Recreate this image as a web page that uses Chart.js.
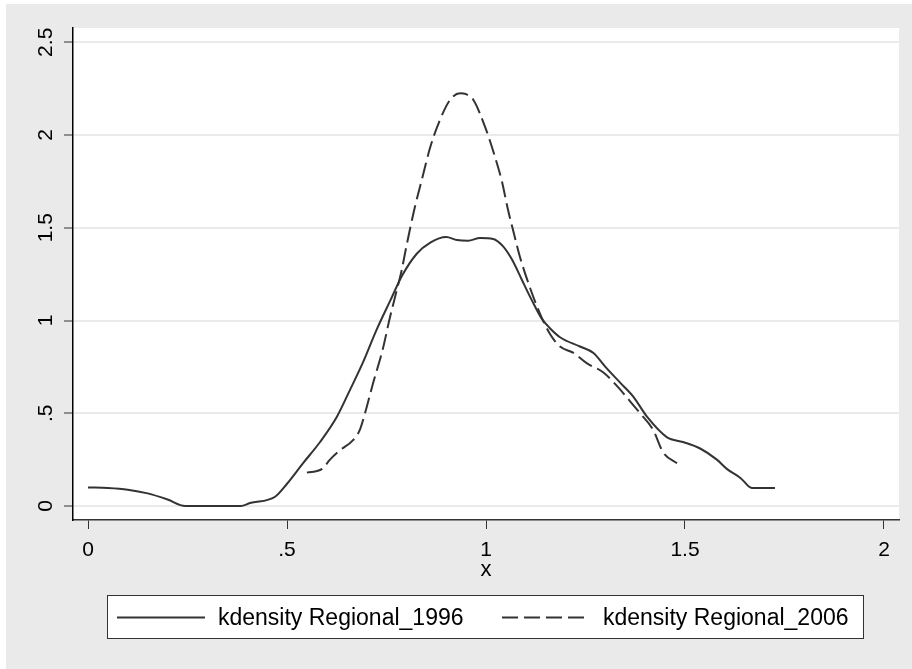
<!DOCTYPE html>
<html>
<head>
<meta charset="utf-8">
<script src="https://cdn.jsdelivr.net/npm/chart.js@4.4.0/dist/chart.umd.min.js"></script>
<style>
  html, body { margin: 0; padding: 0; background: #fff; }
  #wrap { width: 912px; height: 669px; }
</style>
</head>
<body>
<div id="wrap"><canvas id="kd" width="912" height="669"></canvas></div>
<script>
// kdensity Regional_1996
const x1996 = [0, 0.05, 0.1, 0.15, 0.2, 0.244, 0.384, 0.407, 0.47, 0.5, 0.54, 0.583, 0.625, 0.658, 0.69, 0.725, 0.76, 0.79, 0.826, 0.86, 0.9, 0.927, 0.955, 0.985, 1.018, 1.043, 1.065, 1.09, 1.115, 1.14, 1.16, 1.186, 1.236, 1.27, 1.3, 1.337, 1.37, 1.405, 1.455, 1.495, 1.538, 1.58, 1.605, 1.64, 1.668, 1.726];
const y1996 = [0.1, 0.097, 0.088, 0.068, 0.035, 0, 0, 0.016, 0.05, 0.12, 0.23, 0.345, 0.48, 0.625, 0.77, 0.95, 1.11, 1.245, 1.36, 1.42, 1.45, 1.434, 1.43, 1.445, 1.44, 1.4, 1.33, 1.22, 1.11, 1.01, 0.96, 0.91, 0.86, 0.825, 0.75, 0.665, 0.59, 0.48, 0.37, 0.345, 0.31, 0.25, 0.2, 0.15, 0.097, 0.097];

// kdensity Regional_2006
const x2006 = [0.55, 0.588, 0.608, 0.633, 0.666, 0.683, 0.696, 0.716, 0.74, 0.759, 0.776, 0.788, 0.8, 0.82, 0.84, 0.86, 0.884, 0.91, 0.935, 0.95, 0.968, 1.0, 1.02, 1.04, 1.055, 1.07, 1.085, 1.11, 1.135, 1.16, 1.186, 1.22, 1.253, 1.295, 1.33, 1.36, 1.387, 1.42, 1.445, 1.48];
const y2006 = [0.18, 0.2, 0.25, 0.3, 0.355, 0.41, 0.5, 0.66, 0.84, 1.02, 1.165, 1.27, 1.4, 1.6, 1.77, 1.935, 2.08, 2.19, 2.225, 2.22, 2.19, 2.03, 1.9, 1.75, 1.6, 1.47, 1.345, 1.18, 1.04, 0.93, 0.86, 0.825, 0.77, 0.72, 0.645, 0.57, 0.5, 0.41, 0.29, 0.23];

const seriesLabels = ["kdensity Regional_1996", "kdensity Regional_2006"];
const xTicks = [0, 0.5, 1, 1.5, 2];
const yTicks = [0, 0.5, 1, 1.5, 2, 2.5];

const FONT = "'Liberation Sans', Arial, sans-serif";
const LINE = "#333333";

const fmt = (v) => {
    if (v === 0) return "0";
    const s = String(v);
    return s.startsWith("0.") ? s.slice(1) : s;
};

const toPoints = (xs, ys) => xs.map((x, i) => ({ x: x, y: ys[i] }));

// grey frame + white plot region
const backdrop = {
    id: "backdrop",
    beforeDraw(chart) {
        const { ctx, chartArea: a } = chart;
        ctx.save();
        ctx.fillStyle = "#ffffff";
        ctx.fillRect(0, 0, chart.width, chart.height);
        ctx.fillStyle = "#eaeaea";
        ctx.fillRect(6, 4, chart.width - 6, chart.height - 4);
        ctx.fillStyle = "#ffffff";
        ctx.fillRect(a.left, a.top, a.right - a.left, a.bottom - a.top);
        ctx.restore();
    },
};

// y labels are vertical in the original
const yLabels = {
    id: "yLabels",
    afterDraw(chart) {
        const { ctx } = chart;
        const y = chart.scales.y;
        ctx.save();
        ctx.font = "21px " + FONT;
        ctx.fillStyle = "#000";
        ctx.textAlign = "center";
        ctx.textBaseline = "middle";
        yTicks.forEach((v) => {
            ctx.save();
            ctx.translate(46, y.getPixelForValue(v));
            ctx.rotate(-Math.PI / 2);
            ctx.fillText(fmt(v), 0, 0);
            ctx.restore();
        });
        ctx.restore();
    },
};

// boxed legend under the axis
const boxLegend = {
    id: "boxLegend",
    afterDraw(chart) {
        const { ctx } = chart;
        const boxX = 107.5, boxY = 595.5, boxW = 756, boxH = 43;
        const midY = 617.5;
        const items = [
            { x0: 117, x1: 205, tx: 218 },
            { x0: 502, x1: 590, tx: 603 },
        ];
        ctx.save();
        ctx.fillStyle = "#ffffff";
        ctx.fillRect(boxX, boxY, boxW, boxH);
        ctx.strokeStyle = "#333";
        ctx.lineWidth = 1;
        ctx.strokeRect(boxX, boxY, boxW, boxH);
        chart.data.datasets.forEach((ds, i) => {
            const it = items[i];
            ctx.strokeStyle = ds.borderColor;
            ctx.lineWidth = ds.borderWidth;
            ctx.setLineDash(ds.borderDash || []);
            ctx.beginPath();
            ctx.moveTo(it.x0, midY);
            ctx.lineTo(it.x1, midY);
            ctx.stroke();
            ctx.setLineDash([]);
            ctx.font = "23px " + FONT;
            ctx.fillStyle = "#000";
            ctx.textAlign = "left";
            ctx.textBaseline = "middle";
            ctx.fillText(ds.label, it.tx, midY + 1);
        });
        ctx.restore();
    },
};

new Chart(document.getElementById("kd"), {
    type: "line",
    data: {
        datasets: [
            {
                label: seriesLabels[0],
                data: toPoints(x1996, y1996),
                borderColor: LINE,
                borderWidth: 2,
                pointRadius: 0,
                fill: false,
                cubicInterpolationMode: "monotone",
            },
            {
                label: seriesLabels[1],
                data: toPoints(x2006, y2006),
                borderColor: LINE,
                borderWidth: 2,
                borderDash: [16, 6],
                pointRadius: 0,
                fill: false,
                cubicInterpolationMode: "monotone",
            },
        ],
    },
    options: {
        responsive: false,
        animation: false,
        layout: { padding: { top: 28, right: 13, left: 0, bottom: 0 } },
        plugins: {
            legend: { display: false },
            tooltip: { enabled: false },
        },
        scales: {
            x: {
                type: "linear",
                min: -0.0377,
                max: 2.0377,
                afterBuildTicks: (s) => { s.ticks = xTicks.map((v) => ({ value: v })); },
                afterFit: (s) => { s.height = 149; },
                grid: {
                    drawOnChartArea: false,
                    drawTicks: true,
                    tickLength: 9,
                    tickColor: "#333",
                    tickWidth: 1,
                },
                border: { display: true, color: "#333", width: 1.5 },
                ticks: {
                    padding: 9,
                    color: "#000",
                    font: { family: FONT, size: 21 },
                    maxRotation: 0,
                    callback: (v) => fmt(v),
                },
                title: {
                    display: true,
                    text: "x",
                    color: "#000",
                    font: { family: FONT, size: 22 },
                    padding: { top: 0, bottom: 86 },
                },
            },
            y: {
                type: "linear",
                min: -0.0755,
                max: 2.577,
                afterBuildTicks: (s) => { s.ticks = yTicks.map((v) => ({ value: v })); },
                afterFit: (s) => { s.width = 73; },
                grid: {
                    color: "#eaeaea",
                    lineWidth: 2,
                    drawTicks: true,
                    tickLength: 9,
                    tickColor: "#333",
                    tickWidth: 1,
                },
                border: { display: true, color: "#000", width: 1.5 },
                ticks: { display: false },
            },
        },
    },
    plugins: [backdrop, yLabels, boxLegend],
});
</script>
</body>
</html>
